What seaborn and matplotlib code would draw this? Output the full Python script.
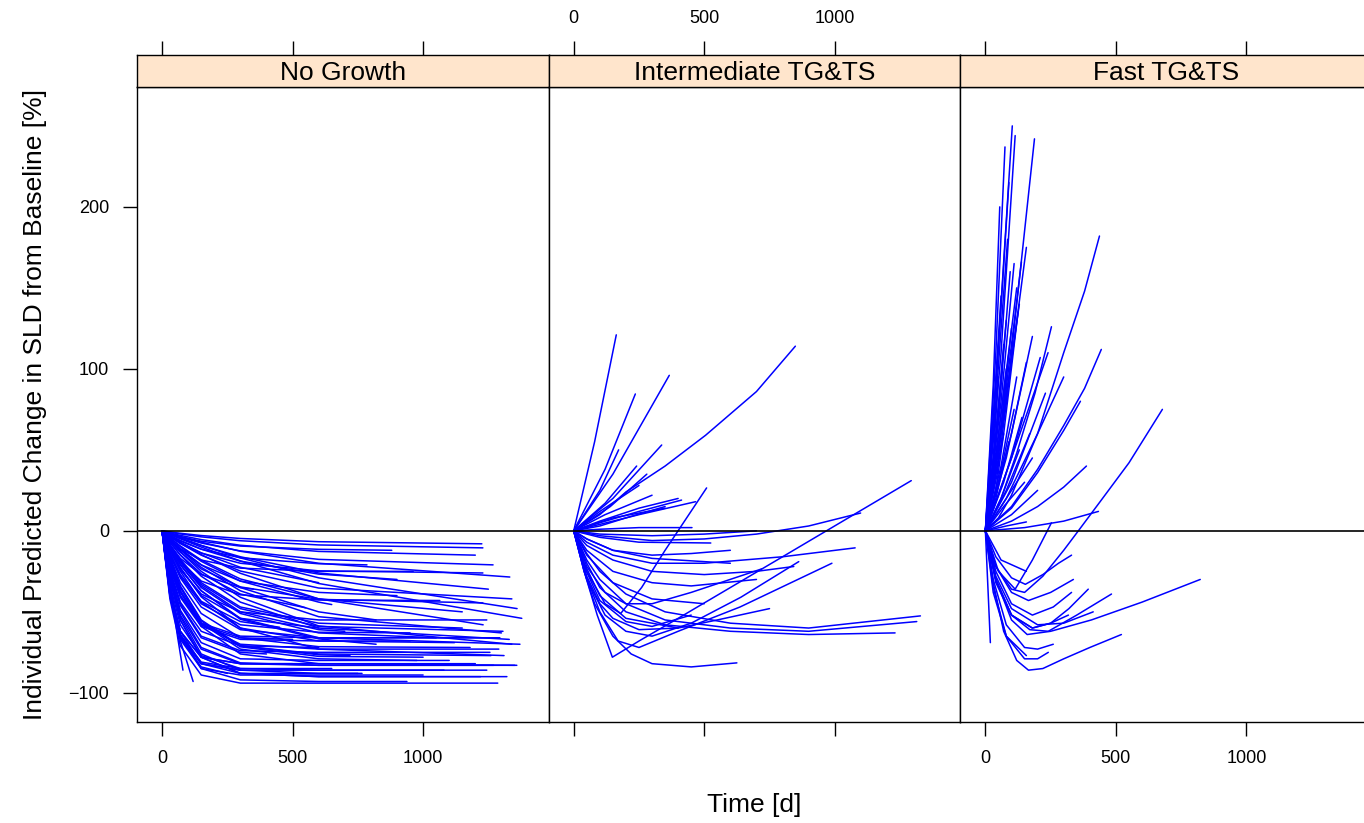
import pandas as pd
import seaborn as sns
import matplotlib.pyplot as plt

## panel names and axis ticks
panels = ["No Growth", "Intermediate TG&TS", "Fast TG&TS"]
x_ticks = [0, 500, 1000]
y_ticks = [-100, 0, 100, 200]

## No Growth: one list of times [d] and one list of changes [%] per patient
ng_time = [
    [0, 30, 60, 80], [0, 30, 70, 119],
    [0, 30, 70, 150, 300, 600, 1286], [0, 30, 70, 150, 300, 600, 938],
    [0, 30, 70, 150, 300, 600, 1321], [0, 30, 70, 150, 300, 600, 1244],
    [0, 30, 70, 150, 300, 600, 1351], [0, 30, 70, 150, 300, 600, 766],
    [0, 30, 70, 150, 300, 600, 976], [0, 30, 70, 150, 300, 600, 1256],
    [0, 30, 70, 150, 300, 600, 1371], [0, 30, 70, 150, 300, 600, 1286],
    [0, 30, 70, 150, 300, 600, 1306], [0, 30, 70, 150, 300, 600, 1244],
    [0, 30, 70, 150, 300, 600, 1378], [0, 30, 70, 150, 300, 600, 1229],
    [0, 30, 70, 150, 300, 600, 1340], [0, 30, 70, 150, 300, 600, 1064],
    [0, 30, 70, 150, 300, 600, 1332], [0, 30, 70, 150, 300, 600, 1229],
    [0, 30, 70, 150, 300, 600, 1268], [0, 30, 70, 150, 300, 600, 962],
    [0, 30, 70, 150, 300, 600, 880], [0, 30, 70, 150, 300, 600, 1229],
    [0, 30, 70, 150, 300, 600, 1225], [0, 30, 70, 150, 300, 600, 785],
    [0, 30, 70, 150, 300, 600, 950], [0, 30, 70, 150, 300, 600, 950],
    [0, 30, 70, 150, 300, 600, 1294], [0, 30, 70, 150, 300, 600, 1200],
    [0, 30, 70, 150, 300, 600, 1100], [0, 30, 70, 150, 300, 600, 1150],
    [0, 30, 70, 150, 300, 600, 1300], [0, 30, 70, 150, 300, 600, 1000],
    [0, 30, 70, 150, 300, 600, 1180], [0, 30, 70, 150, 300, 600, 900],
    [0, 30, 70, 150, 300, 600, 1050], [0, 30, 70, 150, 300, 600, 1270],
    [0, 30, 70, 150, 300, 600, 1340], [0, 30, 70, 150, 300, 600, 1230],
    [0, 30, 70, 150, 300, 600, 1360], [0, 30, 70, 150, 300, 600, 1250],
    [0, 30, 70, 150, 300, 600, 1310], [0, 30, 70, 150, 300, 600, 1220],
    [0, 30, 70, 150, 300, 500], [0, 30, 70, 150, 300, 600],
    [0, 30, 70, 150, 300, 450], [0, 30, 70, 150, 300, 600, 700],
    [0, 30, 70, 150, 300, 600, 650], [0, 30, 70, 150, 300, 550],
    [0, 30, 70, 150, 300, 400], [0, 30, 70, 150, 300],
    [0, 30, 70, 150, 300, 350], [0, 30, 70, 150, 300, 600, 820],
    [0, 30, 70, 150, 300, 600, 720], [0, 30, 70, 150, 250],
    [0, 30, 70, 150, 300, 600], [0, 30, 70, 150, 300, 600, 820],
    [0, 30, 70, 150, 300, 600, 650], [0, 30, 70, 150, 300, 600, 900],
    [0, 30, 70, 150, 300, 600, 750], [0, 30, 70, 150, 300, 600, 1000],
    [0, 30, 70, 150, 300, 600, 1150], [0, 30, 70, 150, 300, 600, 1200],
    [0, 30, 70, 150, 300, 600, 1359], [0, 30, 70, 150, 300, 600, 1290],
    [0, 30, 70, 150, 300, 600, 1120], [0, 30, 70, 150, 300, 600, 1330],
    [0, 30, 70, 150, 300, 600, 1080], [0, 30, 70, 150, 300, 600, 1260],
    [0, 30, 70, 150, 300, 600], [0, 30, 70, 150, 300, 500],
]
ng_change = [
    [0, -33, -66, -86], [0, -32, -68, -93],
    [0, -42, -71, -89, -94, -94, -94], [0, -37, -64, -85, -92, -93, -93],
    [0, -30, -55, -78, -88, -90, -90], [0, -39, -65, -82, -86, -86, -86],
    [0, -18, -37, -59, -76, -82, -83], [0, -29, -53, -76, -86, -88, -88],
    [0, -18, -35, -57, -73, -79, -80], [0, -25, -45, -65, -74, -75, -75],
    [0, -10, -21, -37, -54, -66, -70], [0, -15, -29, -47, -61, -66, -66],
    [0, -9, -18, -33, -48, -59, -62], [0, -12, -24, -39, -50, -55, -55],
    [0, -2.2, -4.9, -10, -18.6, -32.5, -54], [0, -6.2, -13, -23.5, -34.6, -42.3, -44.5],
    [0, -3.5, -7.8, -15, -24.8, -35.3, -42], [0, -9.5, -19, -31, -39.5, -42.7, -43],
    [0, -1.6, -3.5, -7, -12.6, -20, -28.5], [0, -3.6, -7.7, -13.7, -20, -24.7, -26],
    [0, -1.8, -3.9, -7.5, -12.4, -17.6, -21], [0, -5.5, -11, -18, -23, -25, -25],
    [0, -1.7, -3.6, -6.4, -9.4, -11.4, -12], [0, -0.9, -1.9, -3.7, -6.1, -8.7, -10.5],
    [0, -0.7, -1.5, -2.9, -4.7, -6.7, -8], [0, -3, -6.3, -11.3, -16.6, -20.3, -21],
    [0, -22.5, -41, -59, -67, -68, -68], [0, -14, -28, -45, -58, -62.6, -63],
    [0, -22, -40, -57, -65, -66, -66], [0, -37, -62, -78, -82, -82, -82],
    [0, -26, -49, -69, -79, -80, -80], [0, -8.4, -17.8, -32, -47, -57, -60],
    [0, -5.3, -11.7, -22.5, -37, -53, -63], [0, -40, -67, -85, -89, -89, -89],
    [0, -16, -32, -51, -66, -71.5, -72], [0, -5.6, -11.8, -21, -31, -38, -40],
    [0, -9.2, -19.5, -35, -51, -63, -66], [0, -27, -50, -72, -81.5, -83, -83],
    [0, -5.9, -13, -25, -41, -58.7, -70], [0, -3.3, -7.3, -14.7, -26.2, -42, -58],
    [0, -1.9, -4.4, -9, -16.7, -29, -48], [0, -2, -4.5, -9, -16, -26, -36],
    [0, -10.7, -22.7, -40.7, -60, -73, -77], [0, -30, -55, -78, -88, -90, -90],
    [0, -37, -62, -78, -82, -82], [0, -24, -44, -62, -71, -72],
    [0, -13.5, -27, -43.5, -56, -59.5], [0, -9, -19, -34, -50, -61, -62],
    [0, -38, -64, -81, -85, -85, -85], [0, -7, -14.8, -26.5, -39, -47.5],
    [0, -25, -46, -66, -75, -76], [0, -39, -65, -82, -86],
    [0, -8.4, -17, -27, -35, -36], [0, -9.8, -20.7, -37, -54.6, -66.7, -70],
    [0, -17, -34, -55, -71, -76.5, -77], [0, -40, -66, -84, -88],
    [0, -3.2, -7, -13.6, -22.5, -32], [0, -5, -11, -21, -35, -50, -55],
    [0, -4.4, -9.8, -18.8, -31, -44, -45.5], [0, -2.7, -5.9, -11.3, -18.7, -26.7, -30],
    [0, -36, -62, -82, -88, -88, -88], [0, -17, -34.5, -55.6, -71.6, -77.5, -78],
    [0, -4.2, -9.3, -18, -29.7, -42, -50], [0, -1.3, -2.8, -5.4, -8.9, -12.7, -15],
    [0, -28, -52, -73, -82, -83, -83], [0, -20, -38, -58, -70, -73, -73],
    [0, -12, -25, -44, -60, -68, -69], [0, -7, -15, -28, -44, -60, -67],
    [0, -33, -58, -77, -85, -86, -86], [0, -19, -37, -57, -71, -76, -77],
    [0, -11, -23, -40, -54, -60], [0, -20, -40, -58, -66, -67],
]

## Intermediate TG&TS
it_time = [
    [0, 80, 163], [0, 100, 200, 350, 505, 700, 849], [0, 150, 366],
    [0, 120, 236], [0, 150, 337], [0, 100, 172], [0, 120, 241],
    [0, 140, 280], [0, 100, 250, 413], [0, 100, 250, 467],
    [0, 100, 250, 453], [0, 100, 250, 525],
    [0, 40, 90, 148, 250, 400, 800, 1293],
    [0, 50, 120, 180, 260, 350, 509],
    [0, 100, 300, 500, 700, 900, 1099],
    [0, 50, 150, 300, 500, 800, 1078],
    [0, 40, 100, 170, 250, 400, 637, 989],
    [0, 50, 120, 200, 300, 450, 640, 862],
    [0, 50, 150, 300, 500, 700, 843],
    [0, 50, 100, 200, 350, 600, 900, 1328],
    [0, 50, 100, 200, 350, 600, 900, 1314],
    [0, 50, 100, 200, 350, 600, 900, 1231],
    [0, 40, 80, 150, 220, 300, 450, 625],
    [0, 50, 120, 200, 300, 450, 720],
    [0, 50, 150, 300, 450, 700], [0, 50, 150, 300, 500],
    [0, 40, 100, 200, 400], [0, 50, 150, 300, 600],
    [0, 50, 100, 150, 250, 400, 550, 750],
    [0, 150, 350], [0, 120, 300], [0, 100, 250],
    [0, 50, 150, 300, 450, 600], [0, 40, 100, 200, 300, 450],
    [0, 100, 200, 350], [0, 100, 300, 500, 700], [0, 100, 250, 400],
]
it_change = [
    [0, 55, 121], [0, 10, 24, 40, 59, 86, 114], [0, 35, 96],
    [0, 38, 84.5], [0, 20, 53], [0, 25, 50], [0, 17, 40],
    [0, 15, 35], [0, 5, 12, 19], [0, 4, 10, 18],
    [0, 1, 2, 2], [0, -4, -7, -7.5],
    [0, -25, -52, -78, -68, -54, -16, 31],
    [0, -25, -45, -51, -35, -12, 26.5],
    [0, -3, -6, -5, -2, 3, 11],
    [0, -7, -15, -20, -20, -16, -10.5],
    [0, -25, -50, -68, -72, -62, -47, -20],
    [0, -30, -52, -62, -65, -57, -41, -19],
    [0, -9, -18, -25, -27, -25, -22],
    [0, -14, -25, -39, -50, -57, -60, -52.5],
    [0, -18, -30, -45, -55, -60, -62, -56],
    [0, -20, -35, -50, -58, -62, -64, -63],
    [0, -25, -45, -65, -76, -82, -84, -81.5],
    [0, -22, -38, -45, -45, -38, -23.5],
    [0, -12, -25, -32, -34, -30], [0, -15, -32, -42, -45],
    [0, -20, -40, -54, -60], [0, -5, -12, -17, -20],
    [0, -28, -45, -54, -61, -60, -55, -48],
    [0, 8, 14], [0, 10, 22], [0, 12, 28],
    [0, -5, -12, -15, -14, -12], [0, -22, -43, -56, -59, -52],
    [0, 3, 8, 15], [0, -2, -3, -2, 0], [0, 6, 14, 20],
]

## Fast TG&TS
fa_time = [
    [0, 40, 75], [0, 50, 103], [0, 60, 114], [0, 90, 188],
    [0, 80, 157], [0, 70, 138], [0, 50, 100, 200, 300, 380, 437],
    [0, 60, 120, 190, 253], [0, 100, 200, 300, 380, 444], [0, 80, 157],
    [0, 100, 210], [0, 100, 200, 300, 364], [0, 100, 200, 300, 387],
    [0, 40, 85], [0, 50, 95], [0, 50, 100], [0, 40, 80],
    [0, 60, 120], [0, 50, 110], [0, 70, 140], [0, 40, 90], [0, 60, 130],
    [0, 80, 170], [0, 60, 180], [0, 100, 230], [0, 30, 60], [0, 30, 65],
    [0, 50, 120], [0, 70, 150], [0, 100, 200], [0, 40, 70],
    [0, 100, 240], [0, 30, 55], [0, 45, 90], [0, 60, 130],
    [0, 100, 180], [0, 80, 200, 300], [0, 40, 80], [0, 50, 90],
    [0, 35, 70], [0, 60, 110], [0, 45, 85], [0, 70, 125], [0, 30, 50],
    [0, 150, 300, 433], [0, 80, 157],
    [0, 40, 100, 150, 220, 300, 356, 444, 550, 678],
    [0, 50, 114, 180, 253],
    [0, 30, 70, 120, 165, 220, 300, 400, 521],
    [0, 40, 100, 160, 250, 406, 600, 823],
    [0, 40, 100, 170, 241, 350, 483],
    [0, 40, 100, 180, 250, 320, 394],
    [0, 40, 100, 165, 250, 337],
    [0, 40, 100, 153, 220, 280, 330],
    [0, 30, 80, 150, 200, 241], [0, 30, 80, 157], [0, 19],
    [0, 40, 100, 180, 250, 318], [0, 40, 100, 200, 300, 413],
    [0, 60, 157], [0, 30, 80, 150, 200, 260], [0, 40, 100, 180, 260, 330],
]
fa_change = [
    [0, 110, 237], [0, 115, 250], [0, 110, 244], [0, 95, 242],
    [0, 80, 175], [0, 75, 166], [0, 8, 22, 60, 110, 148, 182],
    [0, 20, 48, 85, 126], [0, 15, 38, 65, 88, 112], [0, 45, 104],
    [0, 45, 107], [0, 14, 36, 62, 80], [0, 6, 15, 27, 40],
    [0, 80, 180], [0, 70, 160], [0, 50, 125], [0, 45, 100],
    [0, 40, 95], [0, 30, 75], [0, 30, 70], [0, 20, 55], [0, 20, 50],
    [0, 25, 60], [0, 15, 45], [0, 30, 85], [0, 70, 145], [0, 40, 100],
    [0, 60, 150], [0, 15, 30], [0, 10, 25], [0, 25, 60],
    [0, 45, 110], [0, 90, 200], [0, 100, 215], [0, 60, 140],
    [0, 60, 120], [0, 20, 60, 95], [0, 60, 130], [0, 45, 110],
    [0, 50, 115], [0, 80, 165], [0, 35, 85], [0, 60, 135], [0, 45, 95],
    [0, 2, 6, 12], [0, 3, 5.5],
    [0, -22, -36, -38, -28, -12, 0, 19, 42, 75],
    [0, -25, -36, -18, 5],
    [0, -32, -62, -80, -86, -85, -79, -72, -64],
    [0, -30, -55, -64, -62, -55, -44, -30],
    [0, -30, -52, -61, -62, -52, -39],
    [0, -30, -52, -60, -57, -48, -36],
    [0, -22, -38, -43, -38, -30],
    [0, -16, -29, -33, -27, -20, -15],
    [0, -35, -65, -79, -79, -75], [0, -38, -65, -77], [0, -69],
    [0, -32, -52, -60, -57, -52], [0, -28, -48, -58, -57, -50],
    [0, -18, -25], [0, -30, -58, -72, -73, -70], [0, -25, -45, -52, -47, -38],
]

## long table: one row per observation
rows = []
for name, times, changes in zip(panels, [ng_time, it_time, fa_time],
                                [ng_change, it_change, fa_change]):
    for k, (t, c) in enumerate(zip(times, changes)):
        for tt, cc in zip(t, c):
            rows.append((name, name + str(k), tt, cc))
df = pd.DataFrame(rows, columns=["group", "id", "time", "change"])

sns.set_style("white")
plt.rcParams["font.family"] = ["Liberation Sans", "DejaVu Sans"]
plt.rcParams["text.color"] = "black"
plt.rcParams["xtick.color"] = "black"
plt.rcParams["ytick.color"] = "black"

W, H = 1364, 823
fig = plt.figure(figsize=(W / 100, H / 100), dpi=100)

left0, pw = 137, 411.67
top, bottom, strip_top = 87, 722, 55
tick_kw = dict(direction="out", length=10, width=1, labelsize=13, pad=10,
               color="black", labelcolor="black")

for i, name in enumerate(panels):
    l = (left0 + i * pw) / W
    ax = fig.add_axes([l, 1 - bottom / H, pw / W, (bottom - top) / H])
    sns.lineplot(data=df[df.group == name], x="time", y="change", units="id",
                 estimator=None, color="#0000FF", lw=1.1, ax=ax, legend=False)
    ax.axhline(0, color="black", lw=1.2, zorder=5)
    ax.set_xlim(-96, 1481)
    ax.set_ylim(-118, 274)
    ax.set_xlabel("")
    ax.set_ylabel("")
    ax.set_xticks(x_ticks)
    ax.set_yticks(y_ticks)
    ax.tick_params(axis="x", bottom=True, labelbottom=(i != 1), **tick_kw)
    ax.tick_params(axis="y", left=(i == 0), labelleft=(i == 0), **tick_kw)
    for sp in ax.spines.values():
        sp.set_color("black")
        sp.set_linewidth(1)

    # strip on top of each panel
    st = fig.add_axes([l, 1 - top / H, pw / W, (top - strip_top) / H])
    st.set_facecolor("#FFE5CC")
    st.set_xlim(-96, 1481)
    st.set_ylim(0, 1)
    st.set_xticks(x_ticks)
    st.set_yticks([])
    st.tick_params(axis="x", bottom=False, labelbottom=False, top=True,
                   labeltop=(i == 1), **tick_kw)
    for sp in st.spines.values():
        sp.set_color("black")
        sp.set_linewidth(1)
    st.text(0.5, 0.45, name, transform=st.transAxes, ha="center", va="center",
            fontsize=19, color="black")

fig.text((left0 + 1.5 * pw) / W, 1 - 805 / H, "Time [d]", ha="center",
         va="center", fontsize=19, color="black")
fig.text(35 / W, 1 - 405 / H, "Individual Predicted Change in SLD from Baseline [%]",
         rotation=90, ha="center", va="center", fontsize=19, color="black")

fig.savefig("out.png", dpi=100)
